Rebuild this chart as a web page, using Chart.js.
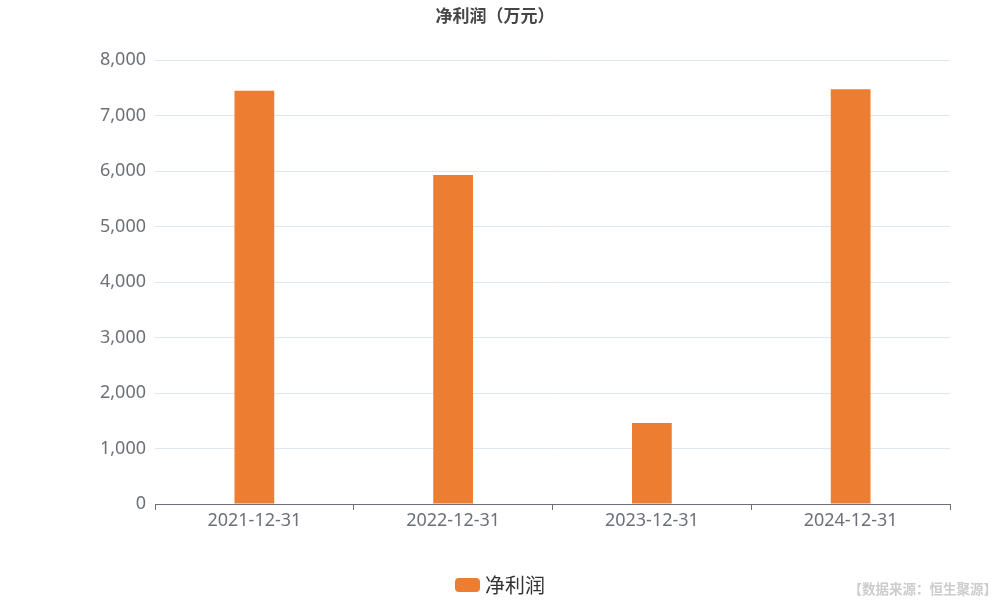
<!DOCTYPE html>
<html>
<head>
<meta charset="utf-8">
<script src="https://cdn.jsdelivr.net/npm/chart.js@4"></script>
<style>
  html, body { margin: 0; padding: 0; background: #fff; }
  #wrap { width: 1000px; height: 600px; position: relative; }
</style>
</head>
<body>
<div id="wrap"><canvas id="chart"></canvas></div>
<script>
// datos del gráfico
const categorias = ['2021-12-31', '2022-12-31', '2023-12-31', '2024-12-31'];
const beneficioNeto = [7445, 5930, 1460, 7475];
const yTicks = [0, 1000, 2000, 3000, 4000, 5000, 6000, 7000, 8000];

const TITULO = '净利润（万元）';
const SERIE = '净利润';
const FUENTE = '【数据来源：恒生聚源】';
const FONT = "'Noto Sans', 'Noto Sans CJK SC', sans-serif";
const NARANJA = '#ED7D31';

// titulo, leyenda y fuente dibujados en el canvas
const textosExtra = {
  id: 'textosExtra',
  afterDraw(chart) {
    const ctx = chart.ctx;
    ctx.save();
    ctx.textBaseline = 'middle';
    ctx.textAlign = 'center';
    ctx.fillStyle = '#464646';
    ctx.font = "bold 17px 'Noto Sans CJK SC', sans-serif";
    ctx.fillText(TITULO, 495, 16);

    // leyenda
    ctx.fillStyle = NARANJA;
    ctx.beginPath();
    ctx.roundRect(455, 578, 25, 14, 4);
    ctx.fill();
    ctx.fillStyle = '#333';
    ctx.textAlign = 'left';
    ctx.font = "20px 'Noto Sans CJK SC', sans-serif";
    ctx.fillText(SERIE, 485, 585);

    // fuente
    ctx.fillStyle = '#cccccc';
    ctx.textAlign = 'right';
    ctx.font = "bold 13.5px 'Noto Sans CJK SC', sans-serif";
    ctx.fillText(FUENTE, 997, 589);
    ctx.restore();
  }
};

const ctx = document.getElementById('chart').getContext('2d');
new Chart(ctx, {
  type: 'bar',
  data: {
    labels: categorias,
    datasets: [{
      label: SERIE,
      data: beneficioNeto,
      backgroundColor: NARANJA,
      borderWidth: 0,
      categoryPercentage: 1,
      barPercentage: 0.2
    }]
  },
  options: {
    responsive: true,
    maintainAspectRatio: false,
    animation: false,
    layout: { padding: { top: 60, right: 50, bottom: 0, left: 0 } },
    plugins: {
      legend: { display: false },
      title: { display: false },
      tooltip: { enabled: false }
    },
    scales: {
      x: {
        grid: { offset: true, drawOnChartArea: false, tickLength: 6, color: '#6E7079' },
        border: { color: '#6E7079' },
        ticks: { color: '#6E7079', font: { family: FONT, size: 18 }, padding: 0, maxRotation: 0 },
        afterFit(scale) { scale.height = 96; }
      },
      y: {
        min: 0,
        max: 8000,
        afterBuildTicks(scale) { scale.ticks = yTicks.map(v => ({ value: v })); },
        grid: { color: '#E0E6F1', drawTicks: false },
        border: { display: false },
        ticks: {
          color: '#6E7079',
          font: { family: FONT, size: 18 },
          padding: 9,
          callback: v => v.toLocaleString('en-US')
        },
        afterFit(scale) { scale.width = 155; }
      }
    }
  },
  plugins: [textosExtra]
});
</script>
</body>
</html>
